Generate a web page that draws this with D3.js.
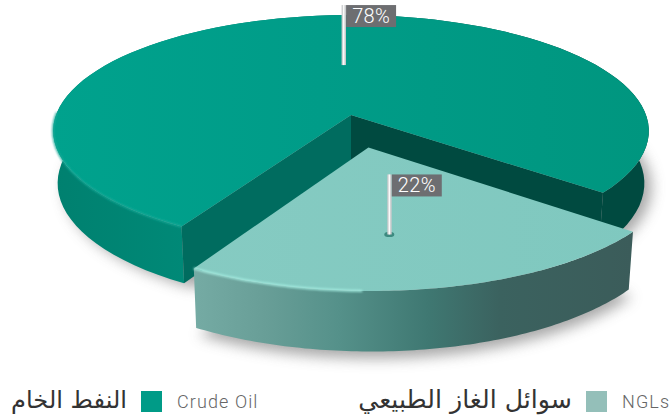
<!DOCTYPE html>
<html><head><meta charset="utf-8">
<style>html,body{margin:0;padding:0;background:#fff}svg{display:block}</style>
<script src="https://cdn.jsdelivr.net/npm/d3@7/dist/d3.min.js"></script>
</head><body><svg id="c" width="672" height="420"></svg>
<script>
const categories=["NGLs","Crude Oil"];
const categoriesAr=["سوائل الغاز الطبيعي","النفط الخام"];
const values=[22,78];
const pctLabels=["22%","78%"];
const swatchColors=["#94bfb9","#009b87"];

const W=672,H=420;
const svg=d3.select("#c");
const defs=svg.append("defs");
const cx=351,cy=115,R=295,S=113.8,k=0.138,depth=56,taper=0.985;
const startDeg=128.7, explode=0.28, cutSpread=2.5;
const rad=d=>d*Math.PI/180;

const pie=d3.pie().sort(null).value(d=>d).startAngle(rad(startDeg)).endAngle(rad(startDeg+360));
const arcs=pie(values);

function proj(u,v,z=0,df=0.92){
  const w=1-k*v, s=1+(taper-1)*z;
  return [cx+R*u/w*s, cy+S*v/w*s+depth*z/w*df];
}
const polar=(a,r,ox=0,oy=0)=>[ox+r*Math.sin(a),oy-r*Math.cos(a)];
const line=d3.line().curve(d3.curveLinear);
const arcPts=(a0,a1,z,ox=0,oy=0,df=0.92)=>d3.range(0,97).map(i=>{
  const a=a0+(a1-a0)*i/96,[u,v]=polar(a,1,ox,oy);return proj(u,v,z,df);});

function lg(id,stops){
  const g=defs.append("linearGradient").attr("id",id).attr("gradientUnits","userSpaceOnUse")
    .attr("x1",50).attr("x2",650).attr("y1",0).attr("y2",0);
  stops.forEach(([o,c])=>g.append("stop").attr("offset",o).attr("stop-color",c));
}
lg("bigWall",[[0,"#00806f"],[0.25,"#008a78"],[0.5,"#006f60"],[0.8,"#004a40"],[1,"#004a40"]]);
lg("smallWall",[[0.23,"#76aca5"],[0.36,"#689e97"],[0.48,"#55918a"],[0.63,"#3f7872"],[0.75,"#3b625f"],[0.97,"#3b5c5a"]]);
lg("bigTop",[[0,"#00a28d"],[0.45,"#009c88"],[1,"#00967f"]]);
lg("smallTop",[[0.2,"#86cbc2"],[1,"#7fc8bf"]]);
defs.append("filter").attr("id","blurS").attr("x","-20%").attr("y","-20%").attr("width","140%").attr("height","140%")
  .append("feGaussianBlur").attr("stdDeviation",7);
defs.append("filter").attr("id","blurR").attr("x","-5%").attr("y","-30%").attr("width","110%").attr("height","160%")
  .append("feGaussianBlur").attr("stdDeviation",1.1);

const wedge=arcs[0], big=arcs[1];
const mid=(wedge.startAngle+wedge.endAngle)/2;
const [ox,oy]=polar(mid,explode);
const wEnd=wedge.endAngle+rad(cutSpread), bStart=big.startAngle+rad(cutSpread), wDf=0.93;

// shadows
const gS=svg.append("g").attr("filter","url(#blurS)").attr("fill","#8a8a8a").attr("opacity",0.75);
gS.append("path").attr("d",line(arcPts(bStart,big.endAngle,1).map(p=>[p[0]+7,p[1]+4]))+"Z");
gS.append("path").attr("d",line([proj(ox,oy,1),...arcPts(wedge.startAngle,wEnd,1,ox,oy,wDf)].map(p=>[p[0]+3,p[1]+7]))+"Z");

// big slice: outer wall
const bigTopArc=arcPts(bStart,big.endAngle,0), bigBotArc=arcPts(bStart,big.endAngle,1);
svg.append("path").attr("d",line([...bigTopArc,...bigBotArc.slice().reverse()])+"Z").attr("fill","url(#bigWall)");
// big slice: inner walls
const c0=proj(0,0,0),c1=proj(0,0,1);
svg.append("path").attr("d",line([c0,bigTopArc[bigTopArc.length-1],bigBotArc[bigBotArc.length-1],c1])+"Z").attr("fill","#004a40");
svg.append("path").attr("d",line([c0,bigTopArc[0],bigBotArc[0],c1])+"Z").attr("fill","#006c5f");
// big top face
svg.append("path").attr("d",line([c0,...bigTopArc])+"Z").attr("fill","url(#bigTop)");
svg.append("path").attr("d",line(bigTopArc.slice(0,22))).attr("fill","none").attr("stroke","#1aa997").attr("stroke-width",2).attr("filter","url(#blurR)");

// wedge
const wTop=arcPts(wedge.startAngle,wEnd,0,ox,oy), wBot=arcPts(wedge.startAngle,wEnd,1,ox,oy,wDf);
svg.append("path").attr("d",line([...wTop,...wBot.slice().reverse()])+"Z").attr("fill","url(#smallWall)");
svg.append("path").attr("d",line([proj(ox,oy,0),...wTop])+"Z").attr("fill","url(#smallTop)");
svg.append("path").attr("d",line(wTop.slice(62,97))).attr("fill","none").attr("stroke","#a6efe3").attr("stroke-width",2).attr("filter","url(#blurR)");

// flags
function flag(p,txt){
  const [x,y]=p, top=y-60;
  svg.append("ellipse").attr("cx",x+0.5).attr("cy",y).attr("rx",5).attr("ry",2.6).attr("fill","#3d8a80").attr("opacity",txt==="22%"?1:0);
  svg.append("rect").attr("x",x-1.5).attr("y",top).attr("width",4.4).attr("height",60).attr("fill","#c9cbcc");
  svg.append("rect").attr("x",x-0.2).attr("y",top).attr("width",1.6).attr("height",60).attr("fill","#fafafa");
  svg.append("rect").attr("x",x+3).attr("y",top).attr("width",50).attr("height",22).attr("fill","#6d6e71");
  svg.append("text").attr("x",x+28).attr("y",top+18).attr("text-anchor","middle").attr("fill","#fff")
    .attr("font-family","Roboto").attr("font-size",20).attr("font-weight",300).attr("letter-spacing",0.3).text(txt);
}
const flagPos=[{r:0.645,shift:rad(6.8),off:[ox,oy]},{r:0.468,shift:rad(8.2),off:[0,0]}];
arcs.forEach((a,i)=>{
  const f=flagPos[i],m=(a.startAngle+a.endAngle)/2+f.shift;
  const [u,v]=polar(m,f.r,f.off[0],f.off[1]);
  flag(proj(u,v,0),pctLabels[i]);
});

// legend
const legendRows=[
 {sw:586,en:622,ar:572,arW:214},
 {sw:141,en:177,ar:127,arW:116}];
categories.forEach((c,i)=>{
  const L=legendRows[i];
  svg.append("rect").attr("x",L.sw).attr("y",391).attr("width",21).attr("height",21).attr("fill",swatchColors[i]);
  svg.append("text").attr("x",L.en).attr("y",408).attr("fill","#666").attr("font-family","Roboto").attr("font-weight",300)
    .attr("font-size",18).attr("letter-spacing",1.1).text(c);
  const t=svg.append("text").attr("x",L.ar).attr("y",408).attr("direction","rtl").attr("text-anchor","start").attr("fill","#333")
    .attr("font-family","'DejaVu Sans'").attr("font-size",20).text(categoriesAr[i]);
  const len=t.node().getComputedTextLength();
  t.attr("font-size",20*L.arW/len);
});
</script></body></html>
